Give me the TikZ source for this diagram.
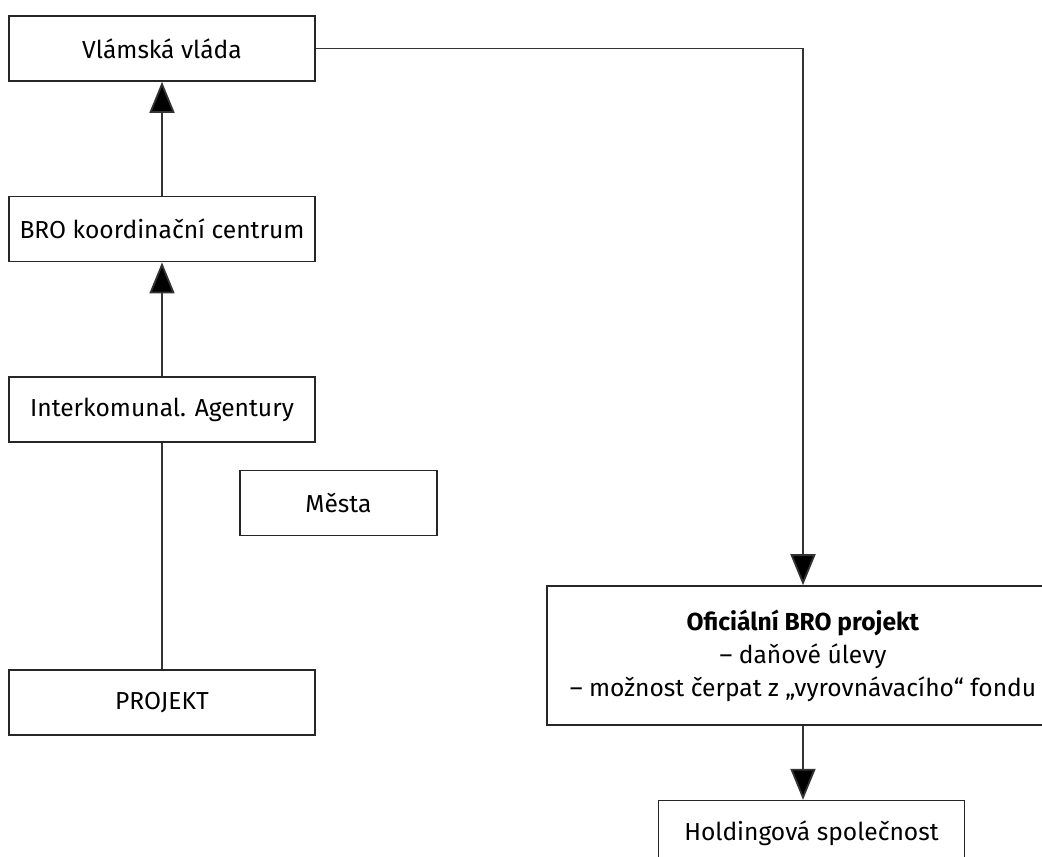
\documentclass[tikz,border=0pt]{standalone}
\usepackage{fontspec}
\setmainfont{Fira Sans}
\usetikzlibrary{positioning}
\usetikzlibrary{arrows.meta}
\begin{document}
\fontsize{12.3}{16.5}\selectfont
\begin{tikzpicture}[x=0.5pt, y=-0.5pt, node distance=57pt,
	box/.style={draw=black!85, line width=0.8pt, rectangle, minimum width=153pt, minimum height=32.5pt, inner sep=0pt, align=center},
	arr/.style={draw=black!80, line width=0.9pt, -{Triangle[length=15.5pt, width=12.5pt, fill=black]}},
	line/.style={draw=black!80, line width=0.9pt}]
	\useasboundingbox (0,0) rectangle (1042,856);
	
	% Nodes
	\node[box] (vlada) at (162,48.5) {Vlámská vláda};
	\node[box, below=of vlada] (centrum) {BRO koordinační centrum};
	\node[box, below=of centrum] (agentury) {Interkomunal. Agentury};
	\node[box, below=113pt of agentury] (projekt) {PROJEKT};
	\node[box, minimum width=98.5pt] (mesta) at (338.5,503) {Města};
	\node[box, minimum width=256pt, minimum height=69.5pt] (oficialni) at (803,655.5) {\textbf{Oficiální BRO projekt}\\– daňové úlevy\\– možnost čerpat z „vyrovnávacího“ fondu};
	\node[box, below=37pt of oficialni, xshift=4.25pt] (holding) {Holdingová společnost};
	
	% Arrows
	\draw[arr] (centrum) -- (vlada);
	\draw[arr] (agentury) -- (centrum);
	\draw[line] (projekt) -- (agentury);
	\draw[arr] (vlada.east) -| (oficialni.north);
	\draw[arr] (oficialni.south) -- (oficialni.south |- holding.north);
\end{tikzpicture}
\end{document}
